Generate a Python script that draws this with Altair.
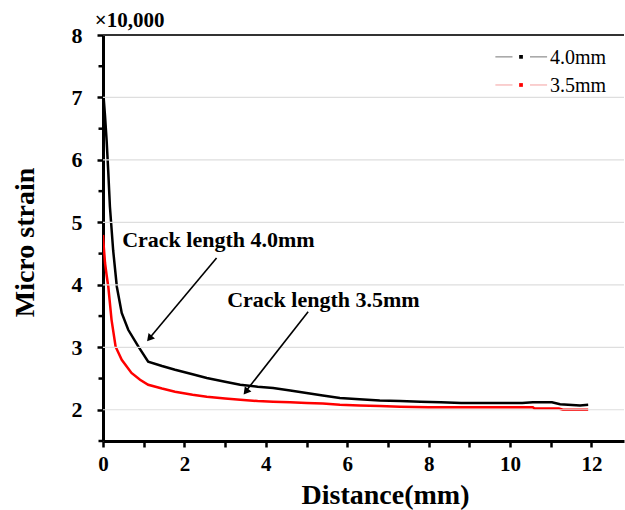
import altair as alt
import pandas as pd

# ---- data ----
dist_40 = [0.00, 0.01, 0.05, 0.09, 0.13, 0.17, 0.25, 0.34, 0.46, 0.62, 0.87, 1.11, 1.45, 1.77,
           2.20, 2.55, 3.00, 3.37, 3.80, 4.18, 4.60, 5.00, 5.40, 5.82, 6.30, 6.80, 7.30, 7.80,
           8.30, 8.80, 9.30, 9.80, 10.30, 10.56, 11.03, 11.23, 11.72, 11.92]
strain_40 = [7.15, 7.05, 6.70, 6.30, 5.80, 5.25, 4.55, 3.97, 3.55, 3.28, 3.01, 2.77, 2.70, 2.64,
             2.57, 2.51, 2.45, 2.40, 2.37, 2.35, 2.31, 2.27, 2.23, 2.19, 2.17, 2.15, 2.14, 2.13,
             2.12, 2.11, 2.11, 2.11, 2.11, 2.12, 2.12, 2.09, 2.07, 2.08]

dist_35 = [0.00, 0.02, 0.05, 0.09, 0.13, 0.21, 0.31, 0.46, 0.70, 0.91, 1.11, 1.45, 1.77, 2.20,
           2.55, 3.00, 3.37, 3.80, 4.18, 4.60, 5.00, 5.40, 5.82, 6.30, 6.80, 7.30, 8.00, 9.00,
           10.00, 10.56, 10.60, 11.20, 11.30, 11.92]
strain_35 = [4.80, 4.60, 4.35, 4.15, 3.97, 3.44, 3.01, 2.80, 2.59, 2.48, 2.40, 2.34, 2.29, 2.24,
             2.21, 2.18, 2.16, 2.14, 2.13, 2.12, 2.11, 2.10, 2.08, 2.07, 2.06, 2.05, 2.04, 2.04,
             2.04, 2.04, 2.02, 2.02, 2.00, 2.00]

series_names = ["4.0mm", "3.5mm"]
series_colors = ["#000000", "#ff0000"]
legend_line_colors = ["#8c8c8c", "#f6b0b0"]

x_ticks = list(range(0, 13))
y_major = [2, 3, 4, 5, 6, 7, 8]
y_minor = [1.5, 2.5, 3.5, 4.5, 5.5, 6.5, 7.5]
y_grid = [2, 3, 4, 5, 6, 7]

ann_texts = ["Crack length 4.0mm", "Crack length 3.5mm"]

FONT = "Liberation Serif"

rows = [{"d": d, "s": s, "series": series_names[0]} for d, s in zip(dist_40, strain_40)]
rows += [{"d": d, "s": s, "series": series_names[1]} for d, s in zip(dist_35, strain_35)]
df = pd.DataFrame(rows)

xscale = alt.Scale(domain=[0, 12.8], nice=False, zero=False)
yscale = alt.Scale(domain=[1.5, 8], nice=False, zero=False)

x_axis = alt.Axis(
    values=x_ticks, format="d",
    labelExpr="datum.value % 2 ? '' : datum.label",
    title="Distance(mm)",
    titleFont=FONT, titleFontSize=28, titleFontWeight="bold", titleColor="black",
    titleX=282, titleY=62, titleBaseline="alphabetic", titleAnchor="start", titleAlign="center",
    labelFont=FONT, labelFontSize=21, labelFontWeight="bold", labelColor="black",
    labelPadding=6, labelFlush=False, labelOverlap=False,
    domainColor="black", domainWidth=3,
    tickColor="black", tickWidth=2.5, tickSize=6,
    grid=False,
)

y_axis = alt.Axis(
    values=y_major, format="d",
    title="Micro strain",
    titleFont=FONT, titleFontSize=28, titleFontWeight="bold", titleColor="black",
    titleX=-78, titleY=207, titleAngle=-90, titleBaseline="middle", titleAlign="center",
    titleAnchor="start",
    labelFont=FONT, labelFontSize=22, labelFontWeight="bold", labelColor="black",
    labelPadding=15, labelFlush=False, labelOverlap=False,
    domainColor="black", domainWidth=3,
    tickColor="black", tickWidth=2.5, tickSize=6,
    grid=False,
)

X = lambda f="d": alt.X(f"{f}:Q", scale=xscale)
Y = lambda f="s": alt.Y(f"{f}:Q", scale=yscale)

grid = alt.Chart(pd.DataFrame({"s": y_grid})).mark_rule(color="#dedede", strokeWidth=1.2).encode(
    y=Y()
)

minor_ticks = alt.Chart(pd.DataFrame({"s": y_minor})).mark_rule(
    color="black", strokeWidth=2.5, clip=False
).encode(y=Y(), x=alt.value(-4.5), x2=alt.value(0))

lines = alt.Chart(df).mark_line(strokeWidth=2.5, clip=True).encode(
    x=alt.X("d:Q", scale=xscale, axis=x_axis),
    y=alt.Y("s:Q", scale=yscale, axis=y_axis),
    color=alt.Color("series:N", scale=alt.Scale(domain=series_names, range=series_colors),
                    legend=None),
    detail="series:N",
)

top_frame = alt.Chart(pd.DataFrame({"s": [8]})).mark_rule(color="#333333", strokeWidth=2).encode(
    y=Y()
)

# unit label
unit_df = pd.DataFrame({"d": [-0.2], "s": [8.13], "t": ["×10,000"]})
unit_text = alt.Chart(unit_df).mark_text(
    font=FONT, fontSize=21, fontWeight="bold", align="left", baseline="alphabetic",
    color="black", clip=False,
).encode(x=X(), y=Y(), text="t:N")

# annotations
ann_df = pd.DataFrame({"d": [0.47, 3.05], "s": [4.61, 3.65], "t": ann_texts})
ann_text = alt.Chart(ann_df).mark_text(
    font=FONT, fontSize=22, fontWeight="bold", align="left", baseline="alphabetic", color="black",
).encode(x=X(), y=Y(), text="t:N")

arrow_df = pd.DataFrame({
    "d": [2.79, 5.04], "s": [4.43, 3.57],
    "d2": [1.12, 3.49], "s2": [3.13, 2.28],
})
arrow_lines = alt.Chart(arrow_df).mark_rule(color="black", strokeWidth=1.6).encode(
    x=X(), y=Y(), x2="d2:Q", y2="s2:Q",
)
head_df = pd.DataFrame({"d": [1.14, 3.51], "s": [3.14, 2.29], "a": [220, 218]})
arrow_heads = alt.Chart(head_df).mark_point(
    shape="triangle-up", filled=True, color="black", size=70, opacity=1,
).encode(x=X(), y=Y(), angle=alt.Angle("a:Q", scale=None))

# legend drawn in plot coordinates
leg_y = [7.65, 7.2]
seg_df = pd.DataFrame({
    "d": [9.64, 10.49, 9.64, 10.49],
    "d2": [10.06, 10.91, 10.06, 10.91],
    "s": [leg_y[0], leg_y[0], leg_y[1], leg_y[1]],
    "c": [legend_line_colors[0]] * 2 + [legend_line_colors[1]] * 2,
})
leg_segs = alt.Chart(seg_df).mark_rule(strokeWidth=1.2).encode(
    x=X(), x2="d2:Q", y=Y(), color=alt.Color("c:N", scale=None, legend=None),
)
sq_df = pd.DataFrame({"d": [10.27, 10.27], "s": leg_y, "c": series_colors})
leg_sq = alt.Chart(sq_df).mark_square(size=14, opacity=1).encode(
    x=X(), y=Y(), color=alt.Color("c:N", scale=None, legend=None),
)
lt_df = pd.DataFrame({"d": [10.98, 10.98], "s": leg_y, "t": series_names})
leg_txt = alt.Chart(lt_df).mark_text(
    font=FONT, fontSize=20, align="left", baseline="middle", color="black", dy=1,
).encode(x=X(), y=Y(), text="t:N")

chart = alt.layer(
    lines, grid, top_frame, minor_ticks, unit_text, ann_text, arrow_lines, arrow_heads,
    leg_segs, leg_sq, leg_txt
).properties(
    width=521, height=406,
    autosize=alt.AutoSizeParams(type="none"),
    padding={"left": 103, "top": 35, "right": 1, "bottom": 69},
    background="white",
).configure_view(stroke=None)

chart.save("out.html", embed_options={"renderer": "svg", "actions": False})
